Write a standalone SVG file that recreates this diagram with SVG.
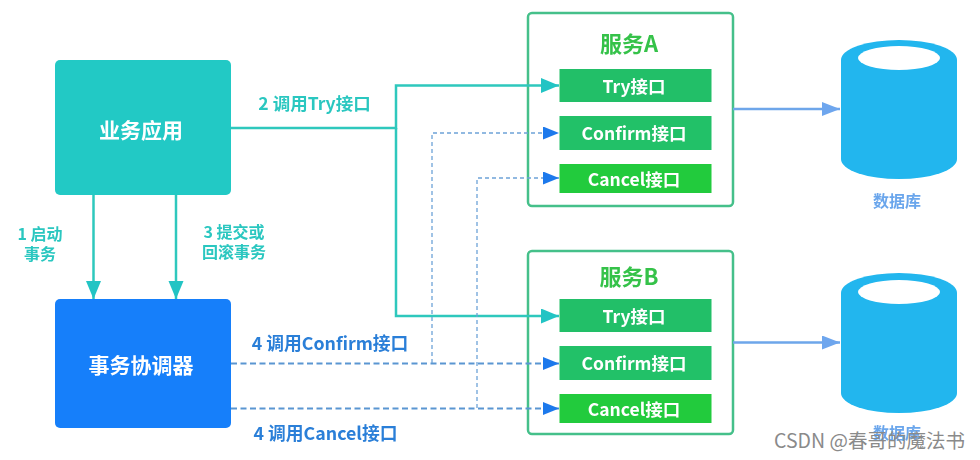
<svg xmlns="http://www.w3.org/2000/svg" width="980" height="460" viewBox="0 0 980 460">
<style>
text{font-family:"Noto Sans CJK SC","Noto Sans",sans-serif;font-weight:700;text-anchor:middle}
.main{fill:#fff;font-size:21px}
.teal{fill:#2cc7c0;font-size:16px}
.blue{fill:#2b7fd8;font-size:17.800px}
.title{fill:#35c24a;font-size:22px}
.api{fill:#fff;font-size:17.500px}
.db{fill:#6ba6ec;font-size:16px}
.box{fill:#fff;stroke:#45c08a;stroke-width:2.500}
.try{fill:#22bf67}.conf{fill:#22c168}.canc{fill:#20cb3c}
.cyl{fill:#20b6ee}
.t{fill:none;stroke:#2fc8bd;stroke-width:2.500}
.d{fill:none;stroke:#5a96d2;stroke-width:1.800;stroke-dasharray:6 3.500}
.d2{fill:none;stroke:#6ea3d8;stroke-width:1.300;stroke-dasharray:4 3}
.s{fill:none;stroke:#6ea6ea;stroke-width:2.500}
</style>
<defs>
<filter id="soft" x="-2%" y="-2%" width="104%" height="104%"><feGaussianBlur stdDeviation="0.5"/></filter>
<marker id="mt" markerUnits="userSpaceOnUse" markerWidth="19" markerHeight="16" refX="18" refY="7.500" orient="auto"><path d="M0 0L18 7.500L0 15Z" fill="#22c4c4"/></marker>
<marker id="mb" markerUnits="userSpaceOnUse" markerWidth="17" markerHeight="14" refX="16" refY="6.500" orient="auto"><path d="M0 0L16 6.500L0 13Z" fill="#1f79ec"/></marker>
<marker id="ms" markerUnits="userSpaceOnUse" markerWidth="19" markerHeight="16" refX="18" refY="7" orient="auto"><path d="M0 0L18 7L0 14Z" fill="#6ea6ee"/></marker>
</defs>
<rect width="980" height="460" fill="#fff"/>
<g filter="url(#soft)">
<g id="app"><rect x="55" y="60" width="176" height="135" rx="5" fill="#22c9c5"/><text class="main" x="141" y="138">业务应用</text></g>
<g id="coordinator"><rect x="55" y="299" width="176" height="129" rx="5" fill="#167ffa"/><text class="main" x="141" y="373">事务协调器</text></g>
<g id="serviceA"><rect class="box" x="528" y="13" width="205" height="193" rx="4"/><text class="title" x="629" y="52">服务A</text>
<g id="a-try"><rect class="try" x="559.500" y="69" width="152" height="33"/><text class="api" x="634" y="93">Try接口</text></g>
<g id="a-confirm"><rect class="conf" x="559.500" y="116" width="152" height="34"/><text class="api" x="634" y="140">Confirm接口</text></g>
<g id="a-cancel"><rect class="canc" x="559.500" y="164" width="152" height="29"/><text class="api" x="634" y="186">Cancel接口</text></g></g>
<g id="serviceB"><rect class="box" x="528" y="251" width="205" height="183" rx="4"/><text class="title" x="629" y="285">服务B</text>
<g id="b-try"><rect class="try" x="559.500" y="299" width="152" height="33"/><text class="api" x="634" y="323">Try接口</text></g>
<g id="b-confirm"><rect class="conf" x="559.500" y="346" width="152" height="34"/><text class="api" x="634" y="370">Confirm接口</text></g>
<g id="b-cancel"><rect class="canc" x="559.500" y="394" width="152" height="29"/><text class="api" x="634" y="416">Cancel接口</text></g></g>
<g id="dbA"><path class="cyl" d="M841 60A58 20 0 0 1 957 60V159A58 20 0 0 1 841 159Z"/><ellipse cx="899" cy="58" rx="41" ry="12" fill="#fff"/><text class="db" x="897" y="207">数据库</text></g>
<g id="dbB"><path class="cyl" d="M841 293A58 20 0 0 1 957 293V393A58 20 0 0 1 841 393Z"/><ellipse cx="899" cy="292" rx="41" ry="12" fill="#fff"/><text class="db" x="897" y="439">数据库</text></g>
<g id="connectors">
<path class="t" marker-end="url(#mt)" d="M93.500 195V299"/>
<path class="t" marker-end="url(#mt)" d="M176 195V299"/>
<path class="t" marker-end="url(#mt)" d="M231 128H396V85.500H559"/>
<path class="t" marker-end="url(#mt)" d="M396 128V316H559"/>
<path class="d" marker-end="url(#mb)" d="M231 363.500H559"/>
<path class="d" marker-end="url(#mb)" d="M231 408.500H559"/>
<path class="d2" marker-end="url(#mb)" d="M432 363V133H559"/>
<path class="d2" marker-end="url(#mb)" d="M477 408V178H559"/>
<path class="s" marker-end="url(#ms)" d="M733 109H840"/>
<path class="s" marker-end="url(#ms)" d="M733 342.500H840"/>
</g>
<text class="teal" style="font-size:17.500px" x="314.500" y="110">2 调用Try接口</text>
<text class="teal" x="40" y="240">1 启动</text>
<text class="teal" x="40" y="260">事务</text>
<text class="teal" x="234" y="238">3 提交或</text>
<text class="teal" x="234" y="258">回滚事务</text>
<text class="blue" x="330" y="350">4 调用Confirm接口</text>
<text class="blue" x="325.500" y="440">4 调用Cancel接口</text>
</g>
<text x="869.500" y="448" style="font-weight:400;font-size:19.500px;fill:#8a8a8a">CSDN @春哥的魔法书</text>
</svg>
